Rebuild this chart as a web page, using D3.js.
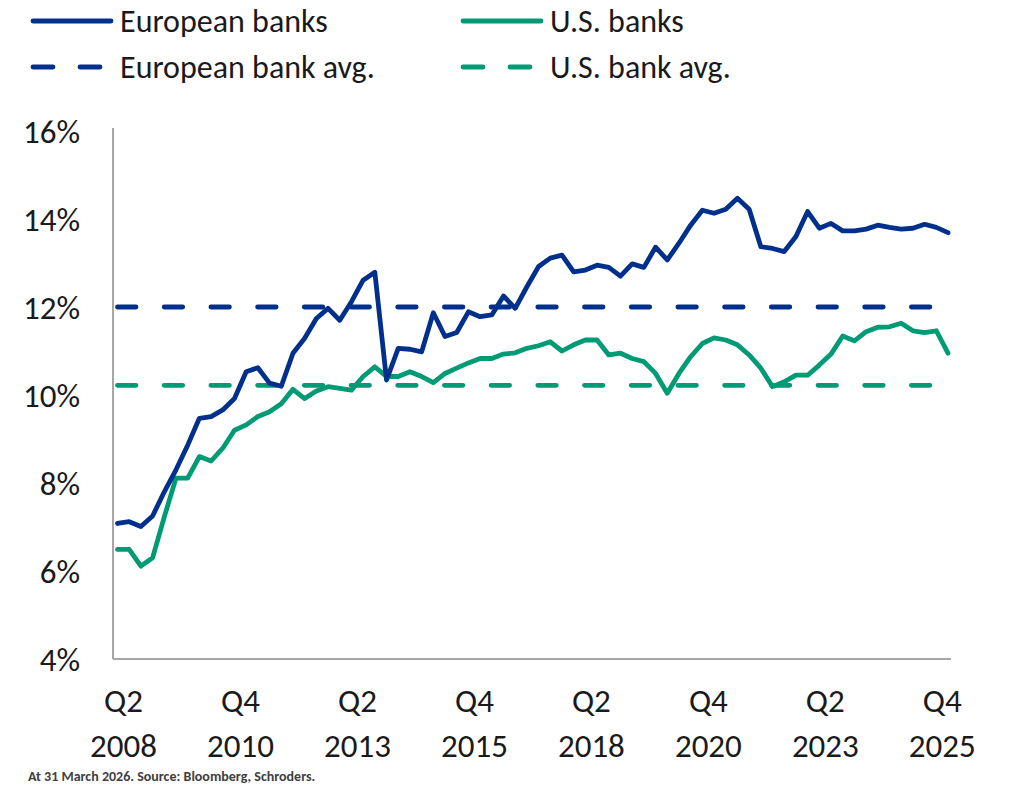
<!DOCTYPE html>
<html>
<head>
    <meta charset="utf-8">
    <style>
        body {
            margin: 0;
            width: 1024px;
            height: 786px;
            overflow: hidden;
            background: white;
        }
        svg {
            display: block;
            background: white;
        }
        text {
            font-family: Carlito, Calibri, Lato, "Open Sans", sans-serif;
            fill: #1a1a1a;
        }
        .tick-label { font-size: 33px; }
        .legend text { font-size: 32px; }
        .note { font-size: 14px; fill: #404040; font-weight: bold; }
        .series {
            fill: none;
            stroke-width: 4.8;
            stroke-linejoin: round;
            stroke-linecap: round;
        }
        .avg {
            fill: none;
            stroke-width: 4.8;
            stroke-linecap: round;
            stroke-dasharray: 18.5 28.2;
        }
        .axis-line {
            stroke: #a6a6a6;
            stroke-width: 2;
        }
    </style>
    <script src="https://d3js.org/d3.v7.min.js"></script>
</head>
<body>
<script>
// quarterly, Q2 2008 .. Q1 2026
const startYear = 2008, startQuarter = 2, nQuarters = 72;
const quarters = [];
for (let i = 0; i < nQuarters; i++) {
    const q = (startQuarter - 1 + i) % 4 + 1;
    const y = startYear + Math.floor((startQuarter - 1 + i) / 4);
    quarters.push(`Q${q} ${y}`);
}

const tickQuarters = ["Q2 2008", "Q4 2010", "Q2 2013", "Q4 2015",
                      "Q2 2018", "Q4 2020", "Q2 2023", "Q4 2025"];
const yTicks = [4, 6, 8, 10, 12, 14, 16];

const europeanBanks = [
    7.08, 7.12, 7.01, 7.25, 7.80, 8.30, 8.86, 9.47, 9.51, 9.66,
    9.92, 10.53, 10.62, 10.27, 10.20, 10.95, 11.29, 11.74, 11.97, 11.70,
    12.12, 12.61, 12.79, 10.34, 11.06, 11.04, 10.98, 11.87, 11.33, 11.42,
    11.89, 11.78, 11.82, 12.25, 11.97, 12.46, 12.92, 13.11, 13.18, 12.80,
    12.84, 12.95, 12.90, 12.70, 12.98, 12.90, 13.36, 13.07, 13.45, 13.86,
    14.20, 14.13, 14.22, 14.47, 14.22, 13.37, 13.33, 13.26, 13.60, 14.17,
    13.79, 13.90, 13.73, 13.73, 13.77, 13.86, 13.81, 13.77, 13.79, 13.88,
    13.81, 13.69
];
const usBanks = [
    6.49, 6.49, 6.11, 6.30, 7.23, 8.11, 8.11, 8.60, 8.50, 8.79,
    9.20, 9.32, 9.51, 9.62, 9.80, 10.13, 9.92, 10.09, 10.19, 10.15,
    10.11, 10.42, 10.64, 10.42, 10.42, 10.53, 10.42, 10.28, 10.49, 10.61,
    10.73, 10.83, 10.83, 10.93, 10.96, 11.06, 11.12, 11.21, 11.00, 11.14,
    11.25, 11.25, 10.91, 10.95, 10.83, 10.76, 10.49, 10.04, 10.49, 10.87,
    11.17, 11.30, 11.25, 11.14, 10.91, 10.61, 10.19, 10.30, 10.45, 10.45,
    10.68, 10.93, 11.34, 11.23, 11.44, 11.54, 11.55, 11.63, 11.46, 11.42,
    11.46, 10.95
];
const europeanAvg = 12.0;
const usAvg = 10.22;

const blue = "#00308c", green = "#009a74";

const width = 1024, height = 786;
const svg = d3.select("body").append("svg")
    .attr("width", width)
    .attr("height", height);

const x = d3.scalePoint().domain(quarters).range([117.5, 948]);
const y = d3.scaleLinear().domain([4, 16]).range([659, 131]);

// axes lines
svg.append("line").attr("class", "axis-line")
    .attr("x1", 113).attr("x2", 113).attr("y1", 128).attr("y2", y(4));
svg.append("line").attr("class", "axis-line")
    .attr("x1", 113).attr("x2", 951).attr("y1", y(4)).attr("y2", y(4));

// y tick labels
svg.append("g").selectAll("text")
    .data(yTicks)
    .join("text")
    .attr("class", "tick-label")
    .attr("x", 80)
    .attr("y", d => y(d))
    .attr("dy", "0.35em")
    .attr("text-anchor", "end")
    .text(d => d + "%");

// x tick labels (two lines)
const xl = svg.append("g").selectAll("text")
    .data(tickQuarters)
    .join("text")
    .attr("class", "tick-label")
    .attr("text-anchor", "middle")
    .attr("transform", d => `translate(${x(d) + 6},0)`);
xl.append("tspan").attr("x", 0).attr("y", 712).text(d => d.split(" ")[0]);
xl.append("tspan").attr("x", 0).attr("y", 757).text(d => d.split(" ")[1]);

// average lines
const avgLine = v => d3.line()([[x(quarters[0]), y(v)], [x(quarters[nQuarters - 1]), y(v)]]);
svg.append("path").attr("class", "avg").attr("stroke", blue).attr("d", avgLine(europeanAvg));
svg.append("path").attr("class", "avg").attr("stroke", green).attr("d", avgLine(usAvg));

// series
const line = d3.line()
    .x((d, i) => x(quarters[i]))
    .y(d => y(d));
svg.append("path").attr("class", "series").attr("stroke", green).attr("d", line(usBanks));
svg.append("path").attr("class", "series").attr("stroke", blue).attr("d", line(europeanBanks));

// legend
const legendItems = [
    { label: "European banks", color: blue, dashed: false, x: 33, y: 21 },
    { label: "U.S. banks", color: green, dashed: false, x: 463, y: 21 },
    { label: "European bank avg.", color: blue, dashed: true, x: 33, y: 67 },
    { label: "U.S. bank avg.", color: green, dashed: true, x: 463, y: 67 }
];
const lg = svg.append("g").attr("class", "legend")
    .selectAll("g")
    .data(legendItems)
    .join("g")
    .attr("transform", d => `translate(${d.x},${d.y})`);
lg.append("line")
    .attr("x1", 0).attr("x2", 78)
    .attr("stroke", d => d.color)
    .attr("stroke-width", 4.8)
    .attr("stroke-linecap", "round")
    .attr("stroke-dasharray", d => d.dashed ? "20 27" : null);
lg.append("text")
    .attr("x", 87)
    .attr("dy", "0.35em")
    .text(d => d.label);

// source note along the bottom edge
svg.append("text").attr("class", "note")
    .attr("x", 28).attr("y", 781)
    .text("At 31 March 2026. Source: Bloomberg, Schroders.");
</script>
</body>
</html>
